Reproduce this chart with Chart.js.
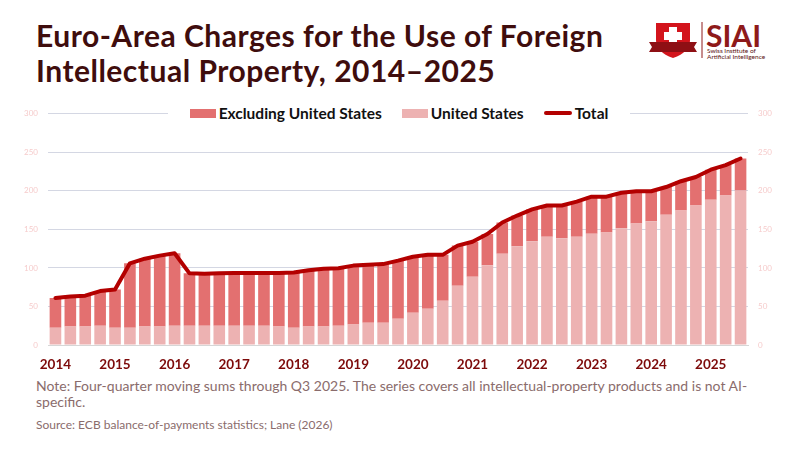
<!DOCTYPE html>
<html>
<head>
<meta charset="utf-8">
<script src="https://cdn.jsdelivr.net/npm/chart.js@4.4.1/dist/chart.umd.min.js"></script>
<style>
  body { margin: 0; background: #fff; font-family: Lato, "Noto Sans", sans-serif; }
  #page { position: relative; width: 800px; height: 450px; overflow: hidden; background: #fff; }
  #title { position: absolute; left: 36px; top: 18px; font-size: 30px; letter-spacing: 0.5px; font-weight: 700; color: #3f0d0d; line-height: 35px; }
  #logo { position: absolute; left: 648px; top: 20px; width: 140px; height: 40px; }
  #legend { position: absolute; left: 168px; width: 462px; top: 103px; height: 20px; background: #fff;
            display: flex; justify-content: center; align-items: center; gap: 20px; font-size: 15.5px; font-weight: 700; color: #111; }
  #legend span.item { display: flex; align-items: center; }
  #legend i { display: inline-block; margin-right: 3px; }
  #chartBox { position: absolute; left: 0; top: 99px; width: 800px; height: 276px; }
  #note { position: absolute; left: 36px; top: 378px; width: 730px; font-size: 14px; line-height: 16px; color: #8a6c6c; }
  #source { position: absolute; left: 36px; top: 417px; font-size: 12px; color: #8a6c6c; }
</style>
</head>
<body>
<div id="page">
  <div id="title">Euro-Area Charges for the Use of Foreign<br>Intellectual Property, 2014–2025</div>
  <div id="logo">
    <svg width="140" height="40" viewBox="0 0 140 40">
      <path d="M8 3 L42 3 L42 20 Q42 32 25 38 Q8 32 8 20 Z" fill="#d3141c"/>
      <rect x="21" y="7" width="8" height="18" fill="#fff"/>
      <rect x="16" y="12" width="18" height="8" fill="#fff"/>
      <path d="M1 22 L49 22 L46 27 L49 32 L1 32 L4 27 Z" fill="#8e0f14"/>
      <line x1="54" y1="2" x2="54" y2="38" stroke="#8e1a1a" stroke-width="1"/>
      <text x="58" y="27" font-family="Lato, sans-serif" font-weight="700" font-size="30" fill="#8e1a1a">SIAI</text>
      <text x="59" y="33" font-family="Lato, sans-serif" font-size="6.5" fill="#5a1010">Swiss Institute of</text>
      <text x="59" y="39" font-family="Lato, sans-serif" font-size="6.5" fill="#5a1010">Artificial Intelligence</text>
    </svg>
  </div>
  <div id="chartBox"><canvas id="chart"></canvas></div>
  <div id="legend">
    <span class="item"><i style="width:26px;height:9px;background:#e37070"></i>Excluding United States</span>
    <span class="item"><i style="width:26px;height:9px;background:#edb2b2"></i>United States</span>
    <span class="item"><i style="width:28px;height:4px;border-radius:2px;background:#b30000"></i>Total</span>
  </div>
  <div id="note">Note: Four-quarter moving sums through Q3 2025. The series covers all intellectual-property products and is not AI-specific.</div>
  <div id="source">Source: ECB balance-of-payments statistics; Lane (2026)</div>
</div>
<script>
// quarterly points, 2014 Q1 .. 2025 Q3 (EUR bn, four-quarter sums)
const quarters = [
  '2014Q1','2014Q2','2014Q3','2014Q4','2015Q1','2015Q2','2015Q3','2015Q4',
  '2016Q1','2016Q2','2016Q3','2016Q4','2017Q1','2017Q2','2017Q3','2017Q4',
  '2018Q1','2018Q2','2018Q3','2018Q4','2019Q1','2019Q2','2019Q3','2019Q4',
  '2020Q1','2020Q2','2020Q3','2020Q4','2021Q1','2021Q2','2021Q3','2021Q4',
  '2022Q1','2022Q2','2022Q3','2022Q4','2023Q1','2023Q2','2023Q3','2023Q4',
  '2024Q1','2024Q2','2024Q3','2024Q4','2025Q1','2025Q2','2025Q3'
];
const usValues = [
  22.5, 24, 24, 25, 22.5, 22.5, 24, 24,
  25, 25, 25, 25, 25, 25, 25, 24,
  22.5, 24, 24, 25, 26.5, 29, 29, 34,
  42, 47, 57.5, 77, 88.5, 103.5, 118.5, 128,
  134.5, 140.5, 138.5, 140.5, 144.5, 146, 151.5, 157.5,
  160.5, 169, 174.5, 181, 188.5, 194, 200.5
];
const exUsValues = [
  38.5, 39, 40, 45, 49.5, 83.5, 88, 92,
  94, 68, 67.5, 68, 68.5, 68.5, 68.5, 69.5,
  71.5, 73, 75, 74.5, 76.5, 75, 76, 75.5,
  72.5, 70, 59.5, 52, 45.5, 40.5, 40.5, 40,
  41.5, 40.5, 42.5, 45.5, 48, 46.5, 46, 42,
  39, 36, 38, 37, 39, 39.5, 41.5
];
const totalValues = [
  61, 63, 64, 70, 72, 106, 112, 116,
  119, 93, 92.5, 93, 93.5, 93.5, 93.5, 93.5,
  94, 97, 99, 99.5, 103, 104, 105, 109.5,
  114.5, 117, 117, 129, 134, 144, 159, 168,
  176, 181, 181, 186, 192.5, 192.5, 197.5, 199.5,
  199.5, 205, 212.5, 218, 227.5, 233.5, 242
];
const yTicks = [0, 50, 100, 150, 200, 250, 300];

const tickFont = { family: 'Lato, sans-serif', size: 8 };
const tickColor = '#f6cccc';

new Chart(document.getElementById('chart'), {
  data: {
    labels: quarters,
    datasets: [
      {
        type: 'line', label: 'Total', data: totalValues, stack: 'total',
        borderColor: '#b30000', borderWidth: 4, pointRadius: 0, tension: 0,
        borderJoinStyle: 'round', borderCapStyle: 'round', order: 0
      },
      {
        type: 'bar', label: 'United States', data: usValues, stack: 'bars',
        backgroundColor: '#edb2b2', barPercentage: 0.78, categoryPercentage: 1, order: 1
      },
      {
        type: 'bar', label: 'Excluding United States', data: exUsValues, stack: 'bars',
        backgroundColor: '#e37070', barPercentage: 0.78, categoryPercentage: 1, order: 1
      }
    ]
  },
  options: {
    responsive: true,
    maintainAspectRatio: false,
    animation: false,
    layout: { padding: { top: 2, left: 0, right: 0, bottom: 0 } },
    plugins: { legend: { display: false }, tooltip: { enabled: false } },
    scales: {
      x: {
        stacked: true,
        grid: { display: false },
        border: { color: '#d6d6d6', width: 1 },
        ticks: {
          autoSkip: false, maxRotation: 0, padding: 4,
          color: '#7d0a0a', font: { family: 'Lato, sans-serif', size: 13.5, weight: 'bold' },
          callback: function (v, i) {
            const q = quarters[i];
            return q.endsWith('Q1') ? q.slice(0, 4) : '';
          }
        },
        afterFit: (s) => { s.height = 30; }
      },
      y: {
        stacked: true, min: 0, max: 300, position: 'left',
        afterBuildTicks: (s) => { s.ticks = yTicks.map(v => ({ value: v })); },
        grid: { color: '#d4d7e3', lineWidth: 1, drawTicks: false },
        border: { display: false },
        ticks: { color: tickColor, font: tickFont, padding: 10 },
        afterFit: (s) => { s.width = 48; }
      },
      y2: {
        min: 0, max: 300, position: 'right',
        afterBuildTicks: (s) => { s.ticks = yTicks.map(v => ({ value: v })); },
        grid: { display: false, drawTicks: false },
        border: { display: false },
        ticks: { color: tickColor, font: tickFont, padding: 10 },
        afterFit: (s) => { s.width = 52; }
      }
    }
  }
});
</script>
</body>
</html>
